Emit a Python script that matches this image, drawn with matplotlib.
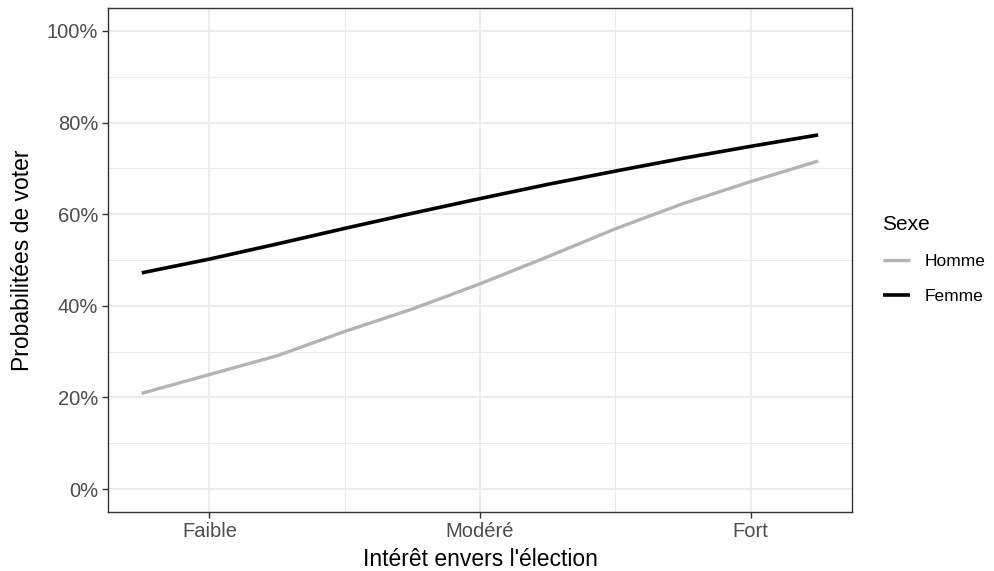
import matplotlib
matplotlib.use("Agg")
import matplotlib.pyplot as plt
import numpy as np

# data (x: 1 = Faible, 2 = Modéré, 3 = Fort)
interet = [0.75, 1.0, 1.25, 1.5, 1.75, 2.0, 2.25, 2.5, 2.75, 3.0, 3.25]
homme = [0.209, 0.250, 0.291, 0.344, 0.393, 0.448, 0.507, 0.568, 0.623, 0.671, 0.716]
femme = [0.472, 0.502, 0.535, 0.569, 0.602, 0.634, 0.665, 0.694, 0.722, 0.748, 0.773]
tick_pos = [1, 2, 3]
tick_labels = ["Faible", "Modéré", "Fort"]

plt.rcParams['font.family'] = ['Liberation Sans', 'DejaVu Sans']

fig = plt.figure(figsize=(9.95, 5.71), dpi=100)
ax = fig.add_axes([0.1085, 0.1033, 0.7478, 0.8827])

ax.plot(interet, homme, color='#B3B3B3', lw=2.4, solid_capstyle='butt',
        solid_joinstyle='round', label='Homme', zorder=3)
ax.plot(interet, femme, color='black', lw=2.6, solid_capstyle='butt',
        solid_joinstyle='round', label='Femme', zorder=3)

ax.set_xlim(0.625, 3.375)
ax.set_ylim(-0.05, 1.05)

ax.set_xticks(tick_pos)
ax.set_xticklabels(tick_labels)
ax.set_xticks([1.5, 2.5], minor=True)
yt = np.arange(0, 1.01, 0.2)
ax.set_yticks(yt)
ax.set_yticklabels([f"{int(round(v * 100))}%" for v in yt])
ax.set_yticks(np.arange(0.1, 1.0, 0.2), minor=True)

ax.grid(which='major', color='#EBEBEB', lw=1.3, zorder=0)
ax.grid(which='minor', color='#EBEBEB', lw=0.7, zorder=0)
ax.set_axisbelow(True)

for s in ax.spines.values():
    s.set_color('#333333')
    s.set_linewidth(1.0)

ax.tick_params(which='major', length=4, width=1, color='#333333',
               labelcolor='#4D4D4D', labelsize=14.5, pad=3)
ax.tick_params(which='minor', length=0)

ax.set_xlabel("Intérêt envers l'élection", fontsize=16.5, color='black', labelpad=5.5)
ax.set_ylabel("Probabilitées de voter", fontsize=16.5, color='black', labelpad=9)

leg = ax.legend(loc='upper left', bbox_to_anchor=(1.02, 0.62), frameon=False,
                title='Sexe', fontsize=12.5, title_fontsize=15,
                handlelength=1.6, handletextpad=0.8, labelspacing=1.15)
leg._legend_box.align = 'left'

fig.savefig('out.png', dpi=100)
